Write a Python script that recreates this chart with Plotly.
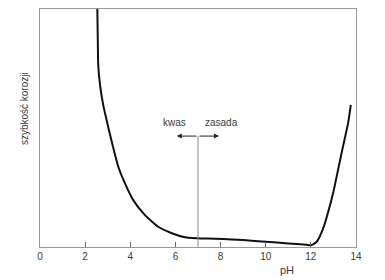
import plotly.graph_objects as go

ph = [2.54, 2.56, 2.58, 2.66, 2.80, 3.00, 3.18, 3.47, 3.77, 4.13, 4.65, 5.24, 5.84, 6.42, 6.94, 7.75,
      8.5, 9.0, 10.0, 11.0, 11.8, 12.0, 12.26, 12.55, 12.77, 13.0, 13.22, 13.44, 13.66, 13.77]
rate = [100, 87.7, 76.5, 68.1, 59.7, 51.3, 44.2, 33.7, 26.6, 19.7, 13.4, 8.5, 5.8, 4.1, 3.7, 3.5,
        3.2, 2.9, 2.2, 1.5, 0.9, 0.7, 2.2, 7.9, 14.8, 23.2, 33.1, 42.9, 52.6, 59.7]

x_ticks = [0, 2, 4, 6, 8, 10, 12, 14]
neutral_ph = 7
arrow_level = 46.6
arrow_left = 6.06
arrow_right = 7.93
label_level = 52.5

gray = "#9a9a9a"
txt = "#3a3a3a"
font_family = "Liberation Sans, Arial, sans-serif"

fig = go.Figure()
fig.add_trace(go.Scatter(x=ph, y=rate, mode="lines", line=dict(color="#111111", width=2, shape="spline", smoothing=0.5),
                         hoverinfo="skip", showlegend=False, cliponaxis=True))
fig.add_trace(go.Scatter(x=[neutral_ph, neutral_ph], y=[0, arrow_level], mode="lines",
                         line=dict(color="#8a8a8a", width=1), hoverinfo="skip", showlegend=False))

for tx in [arrow_left, arrow_right]:
    fig.add_annotation(x=tx, y=arrow_level, ax=neutral_ph, ay=arrow_level, axref="x", ayref="y",
                       xref="x", yref="y", showarrow=True, arrowhead=2, arrowsize=1.0, arrowwidth=1,
                       arrowcolor="#222222", text="")

fig.add_annotation(x=5.98, y=label_level, text="kwas", showarrow=False, xref="x", yref="y",
                   font=dict(size=10, color=txt, family=font_family))
fig.add_annotation(x=8.02, y=label_level, text="zasada", showarrow=False, xref="x", yref="y",
                   font=dict(size=10, color=txt, family=font_family))
fig.add_annotation(x=10.94, y=-0.097, yref="paper", xref="x", text="pH", showarrow=False, yanchor="middle",
                   font=dict(size=11, color=txt, family=font_family))
fig.add_annotation(x=-0.047, xref="paper", y=0.58, yref="paper", text="szybkość korozji", showarrow=False,
                   xanchor="center", yanchor="middle", textangle=-90,
                   font=dict(size=10, color=txt, family=font_family))

fig.update_xaxes(range=[0, 14], tickvals=x_ticks, ticks="inside", ticklen=5, tickcolor="#666666",
                 showline=True, linecolor=gray, linewidth=1, mirror=True, showgrid=False, zeroline=False,
                 tickfont=dict(size=10, color=txt, family=font_family))
fig.update_yaxes(range=[0, 100], showticklabels=False, ticks="", showline=True, linecolor=gray, linewidth=1,
                 mirror=True, showgrid=False, zeroline=False)

fig.update_layout(width=385, height=280, margin=dict(l=40, r=29, t=9, b=33),
                  plot_bgcolor="white", paper_bgcolor="white", showlegend=False)

fig.write_html("out.html")
